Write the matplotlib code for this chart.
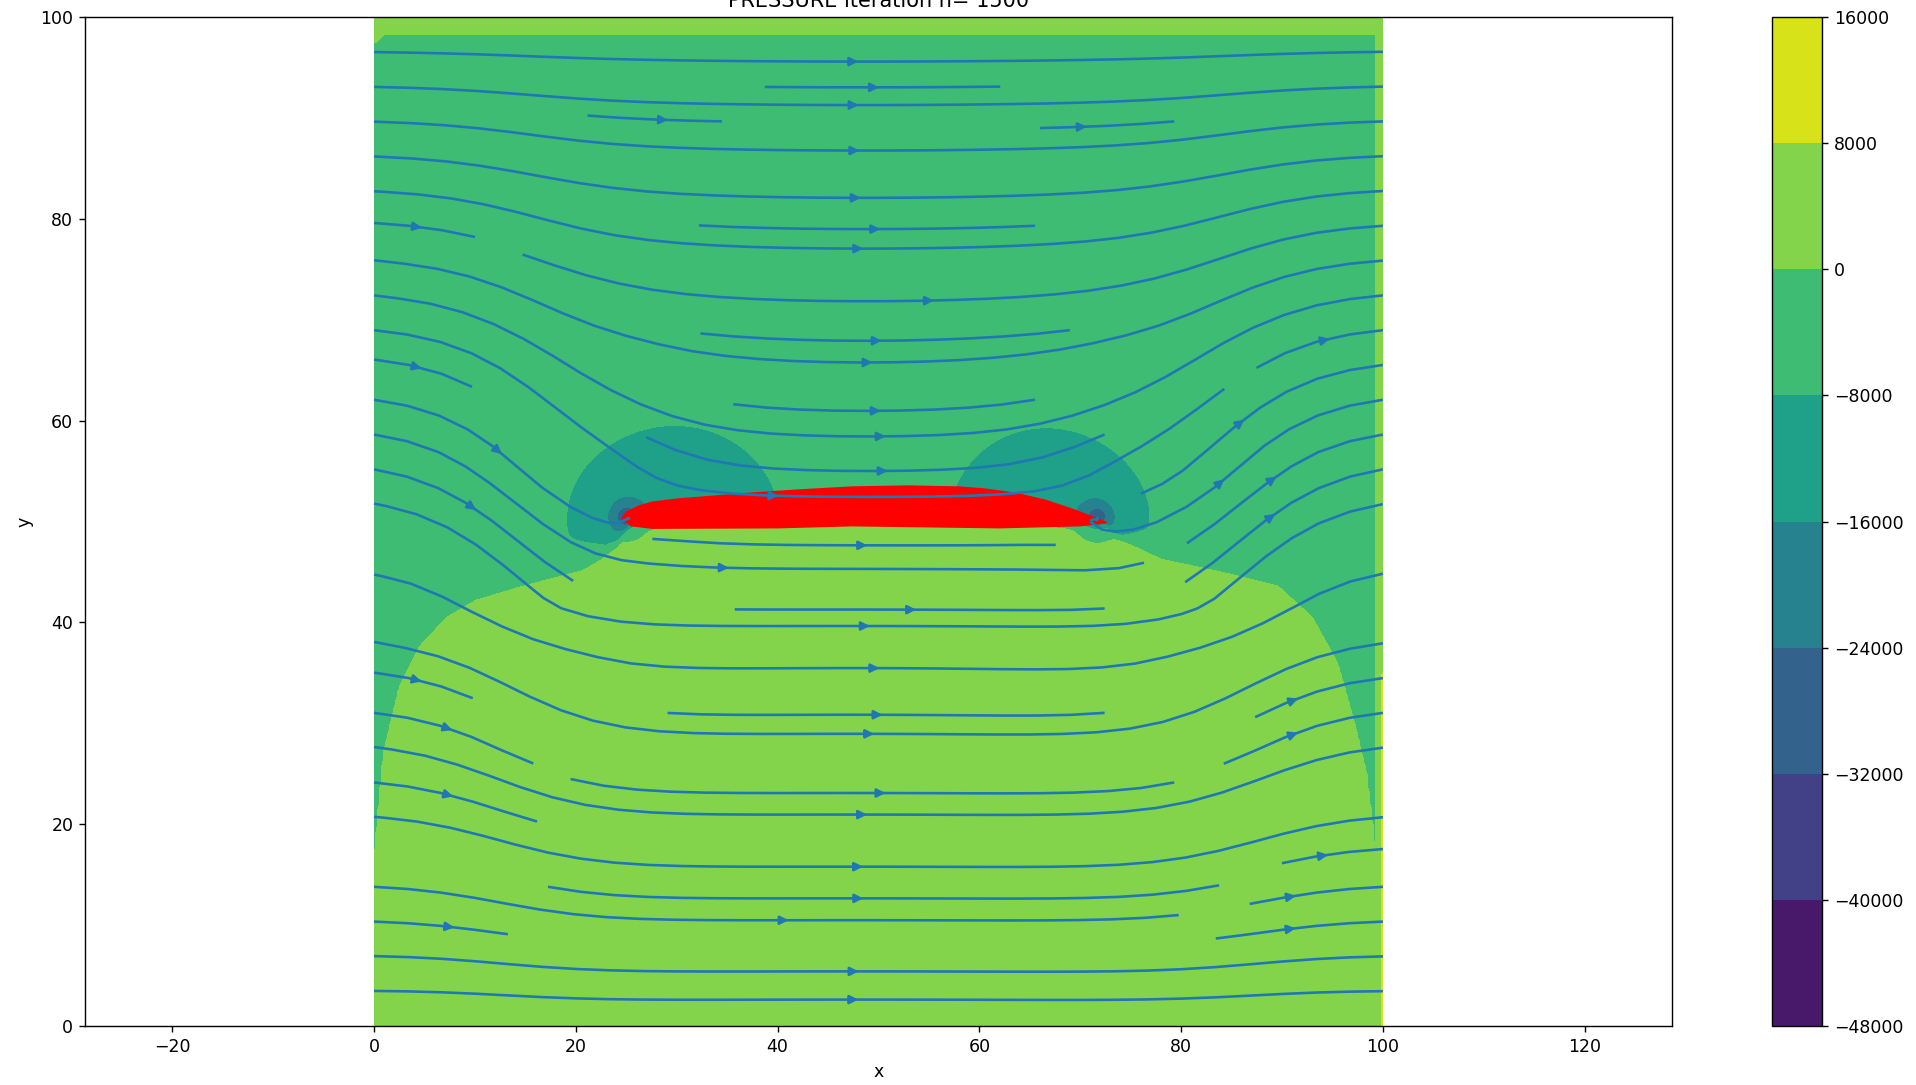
import numpy as np
import matplotlib.pyplot as plt

levels = np.arange(-48000, 16001, 8000)

# wing section
upper_x = [24.6, 25.0, 26.2, 27.6, 30.0, 32.5, 37.5, 42.0, 47.4, 53.0, 58.0, 60.5, 63.5, 66.5, 69.5, 71.8, 72.6]
upper_y = [50.3, 50.9, 51.5, 51.9, 52.2, 52.4, 52.8, 53.1, 53.4, 53.5, 53.4, 53.2, 52.8, 52.1, 51.1, 50.2, 49.9]
lower_x = [24.6, 25.5, 27.6, 40.0, 47.4, 62.0, 70.0, 72.6]
lower_y = [50.3, 49.6, 49.35, 49.4, 49.6, 49.4, 49.6, 49.9]

# p = 0 line, edge of the over-pressure zone under the wing
dome_x = [0, 0.9, 2.5, 4.5, 7.2, 10.1, 14.4, 20.7, 22.4, 24.0, 25.5, 72.5, 73.0, 78.0, 84.0, 89.6, 93.0, 95.5, 97.2, 98.4, 99.0, 99.3]
dome_y = [17, 27, 33.6, 37.6, 40.5, 42.2, 43.5, 45.2, 46.2, 47.5, 49.8, 49.8, 48.8, 46.3, 45.0, 43.6, 40.5, 36.0, 30.0, 25.0, 20.0, 17.0]

# suction pockets: centre x, centre y, half width, half height
le_pocket = [30.3, 50.0, 9.6, 9.0]
te_pocket = [66.2, 50.3, 8.8, 8.5]
le_tip = [25.0, 50.5]
te_tip = [71.7, 50.4]

# streamline height at the inlet and where the same line crosses mid chord
inlet_y = [0, 3.6, 6.9, 14.5, 21.4, 28.5, 35.8, 46.5, 55.8, 70.5, 73.8, 76.9, 80.4, 84.0, 87.3, 90.8, 94.1, 97.6, 100]
mid_y = [0, 2.7, 5.4, 11.0, 16.3, 21.6, 26.9, 37.1, 41.6, 54.4, 61.4, 68.0, 73.6, 78.9, 83.7, 88.3, 92.6, 96.9, 100]
through_flow = 5.0  # flux taken in at the leading edge and put out at the trailing edge

# ---- pressure field
xs = np.linspace(0, 100, 501)
X, Y = np.meshgrid(xs, xs)

h = np.interp(X, dome_x, dome_y)
p = 4000 * np.tanh((h - Y) / 0.3)

def pocket(cx, cy, rx, ry):
    q = ((X - cx) / rx) ** 2 + ((Y - cy) / ry) ** 2
    return 8000 * 0.5 ** q

cut = np.interp(X, [0, 23, 25.5, 72.5, 74, 100], [47.8, 47.8, 49.6, 49.6, 48.8, 48.8])
w = 0.5 * (1 + np.tanh((Y - cut) / 0.4))
p = p - w * (pocket(*le_pocket) + pocket(*te_pocket))
for tx, ty in (le_tip, te_tip):
    p = p - 21400 / (1 + ((X - tx) ** 2 + (Y - ty) ** 2) / 1.5)

p = np.where(Y > 98.2, 4000, p)
p = np.where((X < 1.0) & (Y > 98.2 - (1.0 - X) * 0.8), 4000, p)
p = np.where(X > 99.3, 4000, p)
p = np.where((X > 99.85) & (Y < 35), 12000, p)

# ---- velocity field
k = through_flow / (2 * np.pi)

def pair_psi(x, y):
    return k * (np.arctan2(y - te_tip[1], x - te_tip[0]) - np.arctan2(y - le_tip[1], x - le_tip[0]))

inlet_y = np.array(inlet_y)
mid_y = np.array(mid_y)
shift = inlet_y + pair_psi(0.0, inlet_y) - mid_y - pair_psi(48.5, mid_y)

sx = np.linspace(0, 100, 201)
SX, SY = np.meshgrid(sx, sx)
g = np.interp(sx, mid_y, shift)
G = g[:, None] * np.ones_like(SX)
dG = np.gradient(g, sx)[:, None]

# blend from inlet (0) to mid chord (1) and back
a, b, wd = 14.0, 86.0, 10.0
raw = 0.5 * (np.tanh((SX - a) / wd) - np.tanh((SX - b) / wd))
raw0 = 0.5 * (np.tanh(-a / wd) - np.tanh(-b / wd))
raw_mid = 0.5 * (np.tanh((50 - a) / wd) - np.tanh((50 - b) / wd))
s = (raw - raw0) / (raw_mid - raw0)
ds = 0.5 / wd * (1 / np.cosh((SX - a) / wd) ** 2 - 1 / np.cosh((SX - b) / wd) ** 2) / (raw_mid - raw0)

rT2 = (SX - te_tip[0]) ** 2 + (SY - te_tip[1]) ** 2 + 0.05
rL2 = (SX - le_tip[0]) ** 2 + (SY - le_tip[1]) ** 2 + 0.05
u = 1 + s * dG + k * ((SX - te_tip[0]) / rT2 - (SX - le_tip[0]) / rL2)
v = -ds * G + k * ((SY - te_tip[1]) / rT2 - (SY - le_tip[1]) / rL2)

# no slip on the top and bottom walls
wall = np.tanh(SY / 1.2) * np.tanh((100 - SY) / 1.2)
u = u * wall
v = v * wall

# ---- plot
fig = plt.figure(figsize=(1916 / 125, 1085 / 125), dpi=125)
ax = fig.add_axes([0.0446, 0.0544, 0.8278, 0.9299])
cf = ax.contourf(X, Y, p, levels=levels, cmap='viridis')
ax.fill(list(upper_x) + list(lower_x[::-1]), list(upper_y) + list(lower_y[::-1]), color='red')
ax.streamplot(sx, sx, u, v, density=1)
ax.set_xlim(-28.6, 128.6)
ax.set_ylim(0, 100)
ax.set_xlabel('x')
ax.set_ylabel('y')
ax.set_title('PRESSURE iteration n= 1500')

cax = fig.add_axes([0.9248, 0.0544, 0.0261, 0.9299])
fig.colorbar(cf, cax=cax, ticks=levels)

fig.savefig('out.png', dpi=125)
